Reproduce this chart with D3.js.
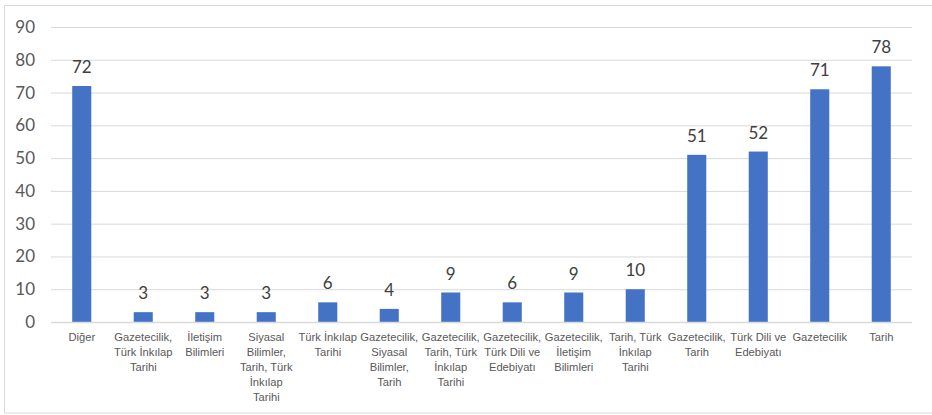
<!DOCTYPE html>
<html><head><meta charset="utf-8">
<script src="https://cdn.jsdelivr.net/npm/d3@7"></script>
<style>
body{margin:0;background:#fff;}
svg{display:block;font-family:Lato,"Open Sans",sans-serif;}
</style></head>
<body>
<svg id="c" width="932" height="415"></svg>
<script>
const categories = [
  "Diğer",
  "Gazetecilik,\nTürk İnkılap\nTarihi",
  "İletişim\nBilimleri",
  "Siyasal\nBilimler,\nTarih, Türk\nİnkılap\nTarihi",
  "Türk İnkılap\nTarihi",
  "Gazetecilik,\nSiyasal\nBilimler,\nTarih",
  "Gazetecilik,\nTarih, Türk\nİnkılap\nTarihi",
  "Gazetecilik,\nTürk Dili ve\nEdebiyatı",
  "Gazetecilik,\nİletişim\nBilimleri",
  "Tarih, Türk\nİnkılap\nTarihi",
  "Gazetecilik,\nTarih",
  "Türk Dili ve\nEdebiyatı",
  "Gazetecilik",
  "Tarih"
];
const values = [72, 3, 3, 3, 6, 4, 9, 6, 9, 10, 51, 52, 71, 78];
const yTicks = [0, 10, 20, 30, 40, 50, 60, 70, 80, 90];

const svg = d3.select("#c");
const mLeft = 51, mRight = 912, mTop = 27, mBottom = 322;

// chart border
svg.append("rect").attr("x", 4.5).attr("y", 5.5).attr("width", 940).attr("height", 407.5)
  .attr("fill", "none").attr("stroke", "#d9d9d9").attr("stroke-width", 1);

const x = d3.scaleBand().domain(categories).range([mLeft, mRight]).paddingInner(0.69).paddingOuter(0.345);
const y = d3.scaleLinear().domain([0, 90]).range([mBottom, mTop]);

// gridlines + y labels
const yAxis = d3.axisLeft(y).tickValues(yTicks).tickSize(-(mRight - mLeft)).tickPadding(16);
const gy = svg.append("g").attr("transform", `translate(${mLeft},0)`).call(yAxis);
gy.select(".domain").remove();
gy.selectAll(".tick line").attr("stroke", "#d9d9d9").attr("stroke-width", 1);
gy.selectAll(".tick text").attr("fill", "#595959").attr("font-size", 17)
  .attr("font-family", "Lato,'Open Sans',sans-serif");

// bars
svg.append("g").selectAll("rect").data(values).join("rect")
  .attr("x", (d, i) => x(categories[i]))
  .attr("y", d => y(d))
  .attr("width", x.bandwidth())
  .attr("height", d => y(0) - y(d))
  .attr("fill", "#4472C4");

// baseline
svg.append("line").attr("x1", mLeft).attr("x2", mRight).attr("y1", y(0) + 0.5).attr("y2", y(0) + 0.5)
  .attr("stroke", "#d9d9d9").attr("stroke-width", 1.5);

// data labels
svg.append("g").selectAll("text").data(values).join("text")
  .attr("x", (d, i) => x(categories[i]) + x.bandwidth() / 2)
  .attr("y", d => y(d) - 13)
  .attr("text-anchor", "middle")
  .attr("font-size", 17).attr("fill", "#404040")
  .text(d => d);

// x labels
const xAxis = d3.axisBottom(x).tickSize(0).tickFormat("");
const gx = svg.append("g").attr("transform", `translate(0,${mBottom})`).call(xAxis);
gx.select(".domain").remove();
gx.selectAll(".tick").each(function(d) {
  const t = d3.select(this).append("text")
    .attr("text-anchor", "middle").attr("fill", "#595959").attr("font-size", 11.2)
    .attr("y", 19);
  d.split("\n").forEach((line, i) => {
    t.append("tspan").attr("x", 0).attr("dy", i === 0 ? 0 : 15).text(line);
  });
});
</script>
</body></html>
